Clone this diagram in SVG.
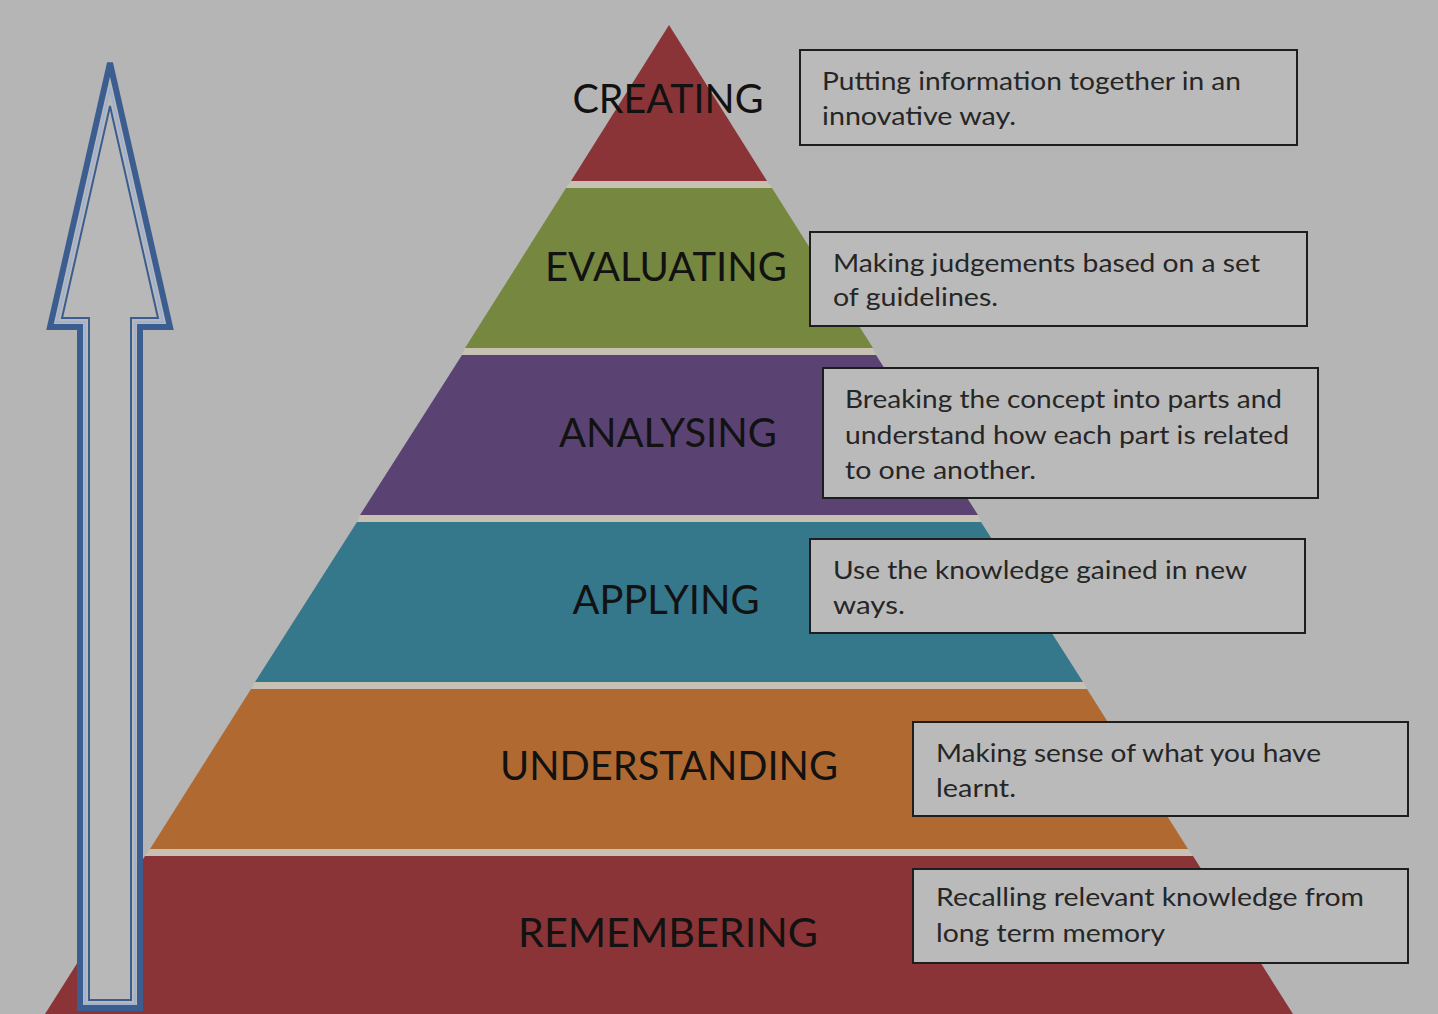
<svg xmlns="http://www.w3.org/2000/svg" width="1438" height="1014" viewBox="0 0 1438 1014">
  <defs>
    <style>
      .label { font-family: Lato, "Open Sans", "Liberation Sans", sans-serif; font-size: 41px; fill: #121212; text-anchor: middle; }
      .desc { font-family: Lato, "Open Sans", "Liberation Sans", sans-serif; font-size: 25px; fill: #262626; }
      .box { fill: #bababa; stroke: #1e1e1e; stroke-width: 2; }
      .gap { fill: #c6c1b2; }
    </style>
  </defs>

  <!-- backdrop -->
  <rect x="0" y="0" width="1438" height="1014" fill="#b5b5b5"/>

  <!-- pyramid tiers with pale separators between them -->
  <g id="pyramid">
    <g id="separators">
      <polygon class="gap" points="571,181 767,181 772,188 566,188"/>
      <polygon class="gap" points="465,348 873,348 876,355 462,355"/>
      <polygon class="gap" points="360,515 978,515 981,522 357,522"/>
      <polygon class="gap" points="255,682 1083,682 1087,689 251,689"/>
      <polygon class="gap" points="150,849 1188,849 1193,856 145,856"/>
    </g>
    <g id="tier-creating">
      <polygon points="669,25 767,181 571,181" fill="#8b3437"/>
      <text class="label" x="668" y="113" textLength="191" lengthAdjust="spacingAndGlyphs">CREATING</text>
    </g>
    <g id="tier-evaluating">
      <polygon points="566,188 772,188 873,348 465,348" fill="#76873f"/>
      <text class="label" x="666" y="281" textLength="242" lengthAdjust="spacingAndGlyphs">EVALUATING</text>
    </g>
    <g id="tier-analysing">
      <polygon points="462,355 876,355 978,515 360,515" fill="#5a4373"/>
      <text class="label" x="668" y="447" textLength="218" lengthAdjust="spacingAndGlyphs">ANALYSING</text>
    </g>
    <g id="tier-applying">
      <polygon points="357,522 981,522 1083,682 255,682" fill="#35778b"/>
      <text class="label" x="666" y="614" textLength="187" lengthAdjust="spacingAndGlyphs">APPLYING</text>
    </g>
    <g id="tier-understanding">
      <polygon points="251,689 1087,689 1188,849 150,849" fill="#b06a31"/>
      <text class="label" x="669" y="780" textLength="338" lengthAdjust="spacingAndGlyphs">UNDERSTANDING</text>
    </g>
    <g id="tier-remembering">
      <polygon points="145,856 1193,856 1293,1014 45,1014" fill="#8b3437"/>
      <text class="label" x="668" y="947" textLength="300" lengthAdjust="spacingAndGlyphs">REMEMBERING</text>
    </g>
  </g>

  <!-- hollow upward arrow along the left side -->
  <g id="arrow">
    <polygon points="110,63 170,327 140,327 140,1008 80,1008 80,327 50,327" fill="#b8b8b8" stroke="#3c5d8f" stroke-width="6" stroke-linejoin="miter"/>
    <polygon points="110,88 163,322 135,322 135,1004 85,1004 85,322 57,322" fill="none" stroke="#9fb2d2" stroke-width="2"/>
    <polygon points="110,106 158,318 131,318 131,1000 89,1000 89,318 62,318" fill="none" stroke="#3c5d8f" stroke-width="2"/>
  </g>

  <!-- description boxes -->
  <g id="desc-creating">
    <rect class="box" x="800" y="50" width="497" height="95"/>
    <text class="desc" x="822" y="90" textLength="419" lengthAdjust="spacingAndGlyphs">Putting information together in an</text>
    <text class="desc" x="822" y="125" textLength="194" lengthAdjust="spacingAndGlyphs">innovative way.</text>
  </g>
  <g id="desc-evaluating">
    <rect class="box" x="810" y="232" width="497" height="94"/>
    <text class="desc" x="833" y="272" textLength="427" lengthAdjust="spacingAndGlyphs">Making judgements based on a set</text>
    <text class="desc" x="833" y="306" textLength="165" lengthAdjust="spacingAndGlyphs">of guidelines.</text>
  </g>
  <g id="desc-analysing">
    <rect class="box" x="823" y="368" width="495" height="130"/>
    <text class="desc" x="845" y="408" textLength="437" lengthAdjust="spacingAndGlyphs">Breaking the concept into parts and</text>
    <text class="desc" x="845" y="444" textLength="444" lengthAdjust="spacingAndGlyphs">understand how each part is related</text>
    <text class="desc" x="845" y="479" textLength="191" lengthAdjust="spacingAndGlyphs">to one another.</text>
  </g>
  <g id="desc-applying">
    <rect class="box" x="810" y="539" width="495" height="94"/>
    <text class="desc" x="833" y="579" textLength="414" lengthAdjust="spacingAndGlyphs">Use the knowledge gained in new</text>
    <text class="desc" x="833" y="614" textLength="72" lengthAdjust="spacingAndGlyphs">ways.</text>
  </g>
  <g id="desc-understanding">
    <rect class="box" x="913" y="722" width="495" height="94"/>
    <text class="desc" x="936" y="762" textLength="385" lengthAdjust="spacingAndGlyphs">Making sense of what you have</text>
    <text class="desc" x="936" y="797" textLength="80" lengthAdjust="spacingAndGlyphs">learnt.</text>
  </g>
  <g id="desc-remembering">
    <rect class="box" x="913" y="869" width="495" height="94"/>
    <text class="desc" x="936" y="906" textLength="428" lengthAdjust="spacingAndGlyphs">Recalling relevant knowledge from</text>
    <text class="desc" x="936" y="942" textLength="229" lengthAdjust="spacingAndGlyphs">long term memory</text>
  </g>
</svg>
